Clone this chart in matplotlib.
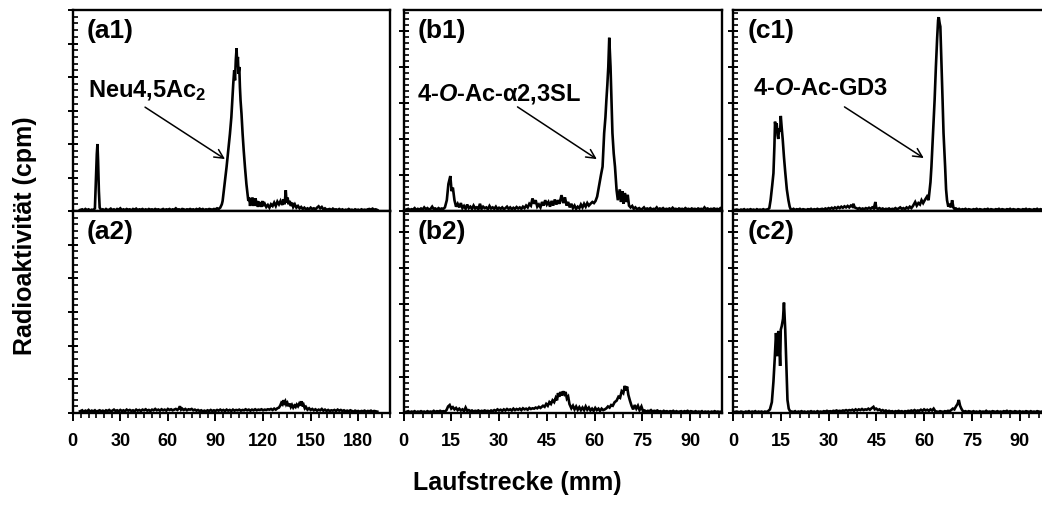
import matplotlib
matplotlib.use("Agg")
import matplotlib.pyplot as plt
from matplotlib.ticker import MultipleLocator

plt.rcParams['font.family'] = ['Liberation Sans', 'DejaVu Sans']
plt.rcParams['font.weight'] = 'bold'
plt.rcParams['mathtext.fontset'] = 'custom'
plt.rcParams['mathtext.rm'] = 'Liberation Sans:bold'
plt.rcParams['mathtext.bf'] = 'Liberation Sans:bold'
plt.rcParams['mathtext.it'] = 'Liberation Sans:italic:bold'
plt.rcParams['mathtext.default'] = 'bf'

# ---------------- data (Laufstrecke mm, Radioaktivität in arbitrary units) -------------
a1_trace = [(4.6,0.03),(6,0.05),(7,0.02),(8,0.06),(9,0.03),(10,0.05),(11,0.02),(12,0.04),(13,0.03),(14,0.08),
    (14.6,0.9),(15.2,1.7),(15.6,2.0),(16.0,1.5),(16.5,0.6),(17,0.1),(18,0.03),(19,0.05),(20,0.02),(21,0.06),
    (22,0.03),(23,0.04),(24,0.07),(25,0.03),(26,0.05),(27,0.02),(28,0.06),(29,0.04),(30,0.08),(31,0.03),
    (32,0.05),(33,0.03),(34,0.06),(35,0.04),(36,0.05),(37,0.02),(38,0.06),(39,0.04),(40,0.07),(41,0.03),
    (42,0.05),(43,0.04),(44,0.06),(45,0.03),(46,0.05),(47,0.03),(48,0.06),(49,0.04),(50,0.05),(51,0.03),
    (52,0.06),(53,0.04),(54,0.05),(55,0.03),(56,0.04),(57,0.06),(58,0.03),(59,0.05),(60,0.04),(61,0.06),
    (62,0.03),(63,0.05),(64,0.04),(65,0.08),(66,0.04),(67,0.05),(68,0.03),(69,0.06),(70,0.05),(71,0.03),
    (72,0.05),(73,0.04),(74,0.06),(75,0.04),(76,0.05),(77,0.03),(78,0.06),(79,0.04),(80,0.07),(81,0.04),
    (82,0.06),(83,0.03),(84,0.05),(85,0.04),(86,0.06),(87,0.05),(88,0.04),(89,0.06),(90,0.05),(91,0.08),
    (92,0.06),(93,0.1),(94,0.2),(94.5,0.3),(95.5,0.7),(96.5,1.1),(97,1.32),(98,1.8),(99.1,2.3),(100,2.8),
    (100.6,3.3),(101.2,3.8),(101.8,4.2),(102.3,3.9),(102.8,4.5),(103.3,4.86),(103.7,4.3),(104.1,4.6),
    (104.5,4.1),(105.0,4.3),(105.4,3.7),(105.8,3.3),(106.4,2.9),(107.1,2.3),(107.8,1.8),(108.6,1.3),
    (109.5,0.8),(110.2,0.5),(110.7,0.3),(111.3,0.4),(111.8,0.15),(112.3,0.35),(112.8,0.2),(113.3,0.4),
    (113.8,0.15),(114.3,0.3),(114.8,0.2),(115.3,0.38),(115.8,0.15),(116.3,0.3),(116.8,0.12),(117.3,0.28),
    (117.8,0.15),(118.5,0.25),(119,0.12),(119.5,0.3),(120,0.15),(121,0.22),(122,0.12),(123,0.18),(124,0.1),
    (125,0.2),(126,0.15),(127,0.25),(128,0.15),(129,0.28),(130,0.2),(131,0.3),(132,0.18),(133,0.35),
    (133.6,0.2),(134.3,0.62),(134.8,0.25),(135.5,0.4),(136,0.2),(136.8,0.3),(137.5,0.15),(138.3,0.25),
    (139,0.12),(140,0.2),(141,0.1),(142,0.15),(143,0.08),(144,0.12),(145,0.06),(146,0.1),(147,0.05),
    (148,0.08),(149,0.05),(150,0.1),(151,0.06),(152,0.08),(153,0.05),(154,0.1),(155,0.14),(156,0.08),
    (157,0.12),(158,0.05),(159,0.08),(160,0.04),(162,0.06),(163,0.03),(164,0.07),(165,0.04),(166,0.05),
    (167,0.03),(168,0.06),(169,0.03),(170,0.05),(171,0.02),(172,0.04),(173,0.03),(174,0.06),(175,0.03),
    (176,0.04),(177,0.02),(178,0.05),(179,0.03),(180,0.04),(181,0.02),(182,0.05),(183,0.03),(184,0.04),
    (185,0.03),(186,0.05),(187,0.06),(188,0.04),(189,0.07),(190,0.04),(191,0.05),(192,0.03)]

a2_trace = [(4.6,0.05),(6,0.08),(7,0.03),(8,0.07),(9,0.05),(10,0.09),(11,0.04),(12,0.07),(13,0.05),(14,0.08),
    (15,0.04),(16,0.06),(17,0.08),(18,0.05),(19,0.07),(20,0.04),(21,0.08),(22,0.06),(23,0.09),(24,0.05),
    (25,0.07),(26,0.1),(27,0.06),(28,0.08),(29,0.05),(30,0.09),(31,0.06),(32,0.08),(33,0.05),(34,0.1),
    (35,0.07),(36,0.09),(37,0.06),(38,0.08),(39,0.05),(40,0.1),(41,0.07),(42,0.09),(43,0.06),(44,0.1),
    (45,0.08),(46,0.11),(47,0.07),(48,0.09),(49,0.06),(50,0.1),(51,0.08),(52,0.12),(53,0.08),(54,0.1),
    (55,0.07),(56,0.11),(57,0.08),(58,0.1),(59,0.07),(60,0.12),(61,0.09),(62,0.11),(63,0.08),(64,0.1),
    (65,0.12),(66,0.09),(67,0.14),(67.6,0.2),(68.3,0.1),(69,0.13),(70,0.09),(71,0.12),(72,0.08),(73,0.11),
    (74,0.1),(75,0.12),(76,0.08),(77,0.1),(78,0.07),(79,0.09),(80,0.06),(81,0.08),(82,0.05),(83,0.07),
    (84,0.05),(85,0.08),(86,0.06),(87,0.09),(88,0.06),(89,0.08),(90,0.06),(91,0.09),(92,0.07),(93,0.1),
    (94,0.07),(95,0.09),(96,0.06),(97,0.1),(98,0.07),(99,0.09),(100,0.06),(101,0.1),(102,0.07),(103,0.09),
    (104,0.08),(105,0.1),(106,0.07),(107,0.09),(108,0.08),(109,0.11),(110,0.08),(111,0.1),(112,0.07),
    (113,0.1),(114,0.08),(115,0.11),(116,0.08),(117,0.1),(118,0.09),(119,0.11),(120,0.08),(121,0.1),
    (122,0.09),(123,0.11),(124,0.1),(125,0.12),(126,0.09),(127,0.13),(128,0.1),(129,0.14),(130,0.16),
    (130.8,0.22),(131.5,0.3),(132.2,0.26),(132.8,0.38),(133.4,0.3),(134,0.35),(134.6,0.25),(135.3,0.3),
    (136,0.2),(136.8,0.28),(137.5,0.18),(138.2,0.24),(139,0.16),(139.8,0.22),(140.5,0.18),(141.2,0.25),
    (142,0.2),(142.8,0.28),(143.5,0.22),(144.2,0.35),(144.8,0.2),(145.5,0.25),(146.3,0.14),(147,0.18),
    (148,0.1),(149,0.14),(150,0.09),(151,0.12),(152,0.08),(153,0.11),(154,0.07),(155,0.1),(156,0.08),
    (157,0.12),(158,0.07),(159,0.1),(160,0.06),(161,0.09),(162,0.06),(163,0.08),(164,0.07),(165,0.09),
    (166,0.06),(167,0.1),(168,0.07),(169,0.09),(170,0.06),(171,0.08),(172,0.05),(173,0.07),(174,0.05),
    (175,0.08),(176,0.06),(177,0.04),(178,0.07),(179,0.05),(180,0.06),(181,0.04),(182,0.06),(183,0.05),
    (184,0.07),(185,0.04),(186,0.06),(187,0.05),(188,0.07),(189,0.04),(190,0.06),(191,0.05),(192,0.04)]

b1_trace = [(0.8,0.04),(1.5,0.06),(2,0.03),(2.5,0.05),(3,0.04),(3.5,0.08),(4,0.03),(4.5,0.06),(5,0.04),
    (5.5,0.07),(6,0.04),(6.5,0.1),(7,0.05),(7.5,0.08),(8,0.04),(8.5,0.06),(9,0.12),(9.5,0.05),(10,0.07),
    (10.5,0.04),(11,0.08),(11.5,0.05),(12,0.07),(12.5,0.06),(13,0.1),(13.6,0.3),(14.1,0.75),(14.7,0.97),
    (15.1,0.55),(15.5,0.65),(16,0.3),(16.5,0.12),(17,0.2),(17.5,0.1),(18,0.22),(18.5,0.08),(19,0.14),
    (19.5,0.06),(20,0.18),(20.5,0.08),(21,0.12),(21.5,0.06),(22,0.15),(22.5,0.07),(23,0.1),(23.5,0.05),
    (24,0.2),(24.5,0.06),(25,0.12),(25.5,0.08),(26,0.1),(26.5,0.05),(27,0.14),(27.5,0.07),(28,0.1),
    (28.5,0.06),(29,0.12),(29.5,0.05),(30,0.09),(30.5,0.06),(31,0.1),(31.5,0.05),(32,0.08),(32.5,0.12),
    (33,0.06),(33.5,0.1),(34,0.05),(34.5,0.09),(35,0.06),(35.5,0.11),(36,0.07),(36.5,0.1),(37,0.06),
    (37.5,0.12),(38,0.08),(38.5,0.15),(39,0.1),(39.5,0.2),(40,0.15),(40.5,0.35),(41,0.2),(41.5,0.3),
    (42,0.12),(42.5,0.18),(43,0.1),(43.5,0.25),(44,0.15),(44.5,0.3),(45,0.18),(45.5,0.25),(46,0.12),
    (46.5,0.28),(47,0.15),(47.5,0.32),(48,0.18),(48.5,0.3),(49,0.2),(49.6,0.44),(50.2,0.22),(50.7,0.38),
    (51.2,0.15),(51.7,0.25),(52.2,0.1),(52.7,0.2),(53.2,0.08),(53.7,0.15),(54.2,0.06),(54.7,0.12),
    (55.2,0.08),(55.7,0.18),(56.2,0.1),(56.7,0.2),(57.2,0.12),(57.7,0.22),(58.2,0.15),(58.7,0.2),
    (59.3,0.25),(59.8,0.22),(60.3,0.28),(60.8,0.4),(61.4,0.7),(62.0,1.0),(62.5,1.23),(63.0,2.16),
    (63.4,2.6),(63.7,3.08),(64.0,3.5),(64.3,4.0),(64.6,4.81),(65.0,4.0),(65.3,3.08),(65.6,2.16),(66.0,1.6),
    (66.4,1.23),(66.9,0.58),(67.3,0.3),(67.6,0.45),(67.9,0.6),(68.3,0.25),(68.7,0.55),(69.1,0.2),
    (69.5,0.5),(69.9,0.25),(70.4,0.45),(70.8,0.15),(71.3,0.1),(71.8,0.14),(72.3,0.06),(72.8,0.1),
    (73.3,0.05),(74,0.08),(74.5,0.04),(75,0.06),(75.5,0.1),(76,0.04),(76.5,0.07),(77,0.05),(77.5,0.08),
    (78,0.04),(78.5,0.06),(79,0.05),(79.5,0.1),(80,0.04),(80.5,0.07),(81,0.05),(81.5,0.08),(82,0.04),
    (82.5,0.06),(83,0.05),(83.5,0.07),(84,0.04),(84.5,0.09),(85,0.05),(85.5,0.06),(86,0.04),(86.5,0.07),
    (87,0.05),(87.5,0.06),(88,0.04),(88.5,0.08),(89,0.05),(89.5,0.06),(90,0.04),(90.5,0.07),(91,0.05),
    (91.5,0.06),(92,0.04),(92.5,0.07),(93,0.05),(93.5,0.06),(94,0.04),(94.5,0.1),(95,0.05),(95.5,0.07),
    (96,0.04),(96.5,0.06),(97,0.05),(97.5,0.07),(98,0.05),(98.5,0.06),(99,0.04),(99.5,0.08),(100,0.05)]

b2_trace = [(0.8,0.03),(1.5,0.05),(2,0.02),(2.5,0.04),(3,0.03),(3.5,0.05),(4,0.02),(4.5,0.04),(5,0.03),
    (5.5,0.05),(6,0.03),(6.5,0.04),(7,0.02),(7.5,0.05),(8,0.03),(8.5,0.04),(9,0.03),(9.5,0.06),(10,0.03),
    (10.5,0.05),(11,0.04),(11.5,0.06),(12,0.04),(12.5,0.05),(13,0.04),(13.5,0.08),(14,0.18),(14.5,0.22),
    (15,0.12),(15.5,0.16),(16,0.1),(16.5,0.14),(17,0.08),(17.5,0.12),(18,0.07),(18.5,0.1),(19,0.05),
    (19.5,0.15),(20,0.06),(20.5,0.08),(21,0.05),(21.5,0.07),(22,0.04),(22.5,0.06),(23,0.05),(23.5,0.07),
    (24,0.04),(24.5,0.06),(25,0.05),(25.5,0.07),(26,0.05),(26.5,0.06),(27,0.04),(27.5,0.07),(28,0.05),
    (28.5,0.08),(29,0.06),(29.5,0.1),(30,0.07),(30.5,0.09),(31,0.06),(31.5,0.1),(32,0.07),(32.5,0.11),
    (33,0.08),(33.5,0.1),(34,0.07),(34.5,0.12),(35,0.08),(35.5,0.11),(36,0.09),(36.5,0.12),(37,0.08),
    (37.5,0.13),(38,0.1),(38.5,0.12),(39,0.09),(39.5,0.14),(40,0.11),(40.5,0.13),(41,0.12),(41.5,0.15),
    (42,0.13),(42.5,0.17),(43,0.14),(43.8,0.2),(44.3,0.17),(44.8,0.25),(45.3,0.2),(45.8,0.3),(46.3,0.25),
    (46.8,0.35),(47.3,0.3),(47.8,0.42),(48.2,0.35),(48.5,0.55),(48.9,0.45),(49.3,0.58),(49.7,0.48),
    (50.1,0.6),(50.5,0.52),(50.9,0.58),(51.3,0.4),(51.7,0.45),(52.1,0.25),(52.7,0.13),(53.2,0.2),
    (53.7,0.1),(54.2,0.18),(54.7,0.09),(55.2,0.16),(55.7,0.08),(56.2,0.15),(56.7,0.08),(57.2,0.18),
    (57.7,0.09),(58.2,0.15),(58.7,0.07),(59.2,0.12),(59.7,0.06),(60.2,0.14),(60.7,0.08),(61.2,0.12),
    (61.7,0.06),(62.2,0.12),(62.7,0.08),(63.2,0.1),(63.7,0.13),(64.2,0.18),(64.7,0.15),(65.2,0.22),
    (65.7,0.2),(66.3,0.3),(66.9,0.34),(67.5,0.45),(68.0,0.42),(68.5,0.6),(69.0,0.55),(69.5,0.75),
    (69.8,0.62),(70.2,0.73),(70.6,0.5),(71.1,0.34),(71.6,0.2),(72.1,0.1),(72.6,0.22),(73.1,0.12),
    (73.6,0.2),(74.1,0.08),(74.7,0.18),(75.2,0.05),(75.7,0.07),(76.2,0.04),(76.7,0.06),(77.2,0.05),
    (77.7,0.08),(78.2,0.04),(78.7,0.06),(79.2,0.05),(79.7,0.07),(80.2,0.04),(80.7,0.05),(81.2,0.03),
    (81.7,0.06),(82.2,0.04),(82.7,0.05),(83.2,0.03),(83.7,0.05),(84.2,0.04),(84.7,0.06),(85.2,0.03),
    (85.7,0.05),(86.2,0.03),(86.7,0.04),(87.2,0.05),(87.7,0.03),(88.2,0.05),(88.7,0.04),(89.2,0.06),
    (89.7,0.03),(90.2,0.05),(90.7,0.04),(91.2,0.03),(91.7,0.05),(92.2,0.03),(92.7,0.04),(93.2,0.03),
    (93.7,0.05),(94.2,0.02),(94.7,0.04),(95.2,0.03),(95.7,0.04),(96.2,0.02),(96.7,0.04),(97.2,0.03),
    (97.7,0.05),(98.2,0.03),(98.7,0.04),(99.2,0.03),(100,0.04)]

c1_trace = [(0.6,0.03),(1.2,0.04),(2,0.02),(2.5,0.04),(3,0.03),(3.5,0.05),(4,0.02),(4.5,0.04),(5,0.03),
    (5.5,0.05),(6,0.03),(6.5,0.04),(7,0.02),(7.5,0.05),(8,0.03),(8.5,0.04),(9,0.03),(9.5,0.05),(10,0.03),
    (10.5,0.04),(11,0.05),(11.4,0.08),(11.8,0.3),(12.3,0.7),(12.7,1.05),(13.0,1.8),(13.2,2.48),(13.5,2.2),
    (13.7,2.44),(14.0,2.1),(14.2,2.0),(14.5,2.3),(14.8,2.2),(15.0,2.64),(15.3,2.3),(15.6,2.0),(16.0,1.5),
    (16.4,1.08),(16.9,0.6),(17.4,0.3),(17.8,0.12),(18.1,0.05),(18.6,0.04),(19,0.06),(19.5,0.03),(20,0.05),
    (20.5,0.04),(21,0.06),(21.5,0.03),(22,0.05),(22.5,0.04),(23,0.03),(23.5,0.05),(24,0.04),(24.5,0.06),
    (25,0.03),(25.5,0.05),(26,0.04),(26.5,0.06),(27,0.04),(27.5,0.05),(28,0.06),(28.5,0.04),(29,0.07),
    (29.5,0.05),(30,0.08),(30.5,0.06),(31,0.09),(31.5,0.06),(32,0.1),(32.5,0.07),(33,0.11),(33.5,0.08),
    (34,0.12),(34.5,0.09),(35,0.13),(35.5,0.1),(36,0.14),(36.5,0.1),(37,0.15),(37.5,0.12),(37.8,0.2),
    (38.2,0.1),(38.7,0.08),(39.2,0.06),(39.7,0.08),(40.2,0.05),(40.7,0.07),(41.2,0.05),(41.7,0.08),
    (42.2,0.06),(42.7,0.09),(43.2,0.06),(43.7,0.1),(44.2,0.07),(44.7,0.25),(45.0,0.08),(45.5,0.06),
    (46,0.08),(46.5,0.05),(47,0.07),(47.5,0.04),(48,0.06),(48.5,0.05),(49,0.07),(49.5,0.04),(50,0.06),
    (50.5,0.05),(51,0.08),(51.5,0.05),(52,0.07),(52.5,0.1),(53,0.06),(53.5,0.08),(54,0.05),(54.5,0.1),
    (55,0.07),(55.5,0.12),(56,0.08),(56.5,0.14),(57.2,0.25),(57.7,0.15),(58.2,0.22),(58.7,0.18),
    (59.2,0.3),(59.7,0.22),(60.2,0.3),(60.9,0.4),(61.4,0.3),(62.0,0.8),(62.3,1.23),(62.8,2.16),
    (63.3,3.08),(63.7,4.0),(64.1,4.8),(64.4,5.3),(64.6,5.38),(64.9,5.2),(65.1,5.12),(65.5,4.0),
    (65.8,3.08),(66.1,2.16),(66.6,1.23),(66.9,0.6),(67.2,0.3),(67.6,0.12),(68.0,0.2),(68.4,0.1),
    (68.8,0.3),(69.2,0.1),(69.6,0.05),(70,0.07),(70.5,0.04),(71,0.06),(71.5,0.03),(72,0.05),(72.5,0.04),
    (73,0.06),(73.5,0.03),(74,0.05),(74.5,0.04),(75,0.03),(75.5,0.05),(76,0.04),(76.5,0.06),(77,0.03),
    (77.5,0.05),(78,0.04),(78.5,0.03),(79,0.05),(79.5,0.04),(80,0.06),(80.5,0.03),(81,0.05),(81.5,0.04),
    (82,0.03),(82.5,0.05),(83,0.04),(83.5,0.06),(84,0.03),(84.5,0.05),(85,0.04),(85.5,0.03),(86,0.05),
    (86.5,0.04),(87,0.06),(87.5,0.03),(88,0.05),(88.5,0.04),(89,0.03),(89.5,0.05),(90,0.04),(90.5,0.03),
    (91,0.05),(91.5,0.04),(92,0.06),(92.5,0.03),(93,0.05),(93.5,0.04),(94,0.03),(94.5,0.05),(95,0.04),
    (95.5,0.06),(96,0.03),(96.5,0.05),(97,0.04),(97.5,0.03),(98,0.05),(98.5,0.04),(99,0.03),(99.5,0.05),
    (100,0.04)]

c2_trace = [(0.6,0.03),(1.2,0.04),(2,0.02),(2.5,0.04),(3,0.03),(3.5,0.02),(4,0.04),(4.5,0.03),(5,0.05),
    (5.5,0.02),(6,0.04),(6.5,0.03),(7,0.05),(7.5,0.02),(8,0.04),(8.5,0.03),(9,0.04),(9.5,0.02),(10,0.04),
    (10.5,0.03),(11,0.05),(11.6,0.1),(12.2,0.3),(12.7,0.87),(13.1,1.5),(13.5,2.21),(13.9,1.57),(14.1,2.2),
    (14.4,2.26),(14.8,1.3),(15.0,2.3),(15.3,2.4),(15.7,2.6),(16.0,3.05),(16.4,2.3),(16.7,1.5),(17.1,0.36),
    (17.5,0.12),(17.9,0.05),(18.5,0.04),(19,0.03),(19.5,0.05),(20,0.02),(20.5,0.04),(21,0.03),(21.5,0.05),
    (22,0.03),(22.5,0.04),(23,0.02),(23.5,0.04),(24,0.03),(24.5,0.05),(25,0.03),(25.5,0.04),(26,0.02),
    (26.5,0.05),(27,0.03),(27.5,0.04),(28,0.03),(28.5,0.05),(29,0.04),(29.5,0.06),(30,0.04),(30.5,0.05),
    (31,0.04),(31.5,0.06),(32,0.05),(32.5,0.07),(33,0.05),(33.5,0.06),(34,0.05),(34.5,0.07),(35,0.06),
    (35.5,0.08),(36,0.06),(36.5,0.08),(37,0.07),(37.5,0.09),(38,0.06),(38.5,0.1),(39,0.07),(39.5,0.1),
    (40,0.08),(40.5,0.11),(41,0.08),(41.5,0.1),(42,0.09),(42.5,0.12),(43,0.09),(43.5,0.13),(44.1,0.17),
    (44.5,0.1),(45,0.12),(45.5,0.08),(46,0.1),(46.5,0.06),(47,0.08),(47.5,0.05),(48,0.07),(48.5,0.04),
    (49,0.06),(49.5,0.04),(50,0.05),(50.5,0.03),(51,0.05),(51.5,0.04),(52,0.06),(52.5,0.04),(53,0.05),
    (53.5,0.03),(54,0.05),(54.5,0.04),(55,0.06),(55.5,0.05),(56,0.07),(56.5,0.05),(57,0.08),(57.5,0.05),
    (58,0.07),(58.5,0.06),(59,0.09),(59.5,0.06),(60,0.1),(60.5,0.07),(61,0.09),(61.5,0.06),(62,0.1),
    (62.5,0.07),(63,0.12),(63.5,0.05),(64,0.04),(64.5,0.03),(65,0.05),(65.5,0.04),(66,0.03),(66.5,0.05),
    (67,0.04),(67.5,0.06),(68,0.05),(68.5,0.08),(69,0.12),(69.5,0.1),(70,0.18),(70.5,0.25),(70.9,0.36),
    (71.3,0.2),(71.7,0.12),(72.1,0.06),(72.5,0.04),(73,0.05),(73.5,0.03),(74,0.05),(74.5,0.04),(75,0.03),
    (75.5,0.05),(76,0.03),(76.5,0.04),(77,0.02),(77.5,0.05),(78,0.03),(78.5,0.04),(79,0.03),(79.5,0.06),
    (80,0.03),(80.5,0.04),(81,0.03),(81.5,0.05),(82,0.04),(82.5,0.03),(83,0.05),(83.5,0.03),(84,0.04),
    (84.5,0.03),(85,0.05),(85.5,0.04),(86,0.06),(86.5,0.03),(87,0.05),(87.5,0.04),(88,0.03),(88.5,0.05),
    (89,0.04),(89.5,0.03),(90,0.05),(90.5,0.03),(91,0.04),(91.5,0.03),(92,0.05),(92.5,0.04),(93,0.03),
    (93.5,0.05),(94,0.03),(94.5,0.04),(95,0.03),(95.5,0.05),(96,0.04),(96.5,0.03),(97,0.04),(98,0.03),
    (99,0.04),(100,0.03)]

panel_labels = ['(a1)', '(b1)', '(c1)', '(a2)', '(b2)', '(c2)']
a_xticks = [0, 30, 60, 90, 120, 150, 180]
bc_xticks = [0, 15, 30, 45, 60, 75, 90]
annotations = ['Neu4,5Ac$_2$', '4-$\\mathit{O}$-Ac-α2,3SL', '4-$\\mathit{O}$-Ac-GD3']
x_label = 'Laufstrecke (mm)'
y_label = 'Radioaktivität (cpm)'

# ---------------- figure ----------------
W, H = 1042, 507
fig = plt.figure(figsize=(W / 100, H / 100), dpi=100)

col_left = [72.7, 403.5, 733.0]
col_width = [317.3, 318.5, 318.5]
row_top = [10.0, 211.0]
row_h = [201.0, 202.0]

traces = [[a1_trace, b1_trace, c1_trace], [a2_trace, b2_trace, c2_trace]]
xlims = [(0, 200), (0, 100), (0, 100)]
ylims = [(0, 6.0), (0, 5.58), (0, 5.58)]
yminor = [0.2, 1 / 6, 1 / 6]
xminor = [5, 3, 3]
xticks = [a_xticks, bc_xticks, bc_xticks]

axes = {}
for r in range(2):
    for c in range(3):
        l = col_left[c] / W
        b = 1 - (row_top[r] + row_h[r]) / H
        ax = fig.add_axes([l, b, col_width[c] / W, row_h[r] / H])
        axes[(r, c)] = ax
        tr = traces[r][c]
        xs = [p[0] for p in tr]
        ys = [p[1] for p in tr]
        ax.plot(xs, ys, color='black', lw=1.9, solid_joinstyle='miter')
        ax.set_xlim(*xlims[c])
        ax.set_ylim(*ylims[c])
        for s in ax.spines.values():
            s.set_linewidth(1.7)
        ax.yaxis.set_major_locator(MultipleLocator(1))
        ax.yaxis.set_minor_locator(MultipleLocator(yminor[c]))
        ax.tick_params(axis='y', which='major', direction='inout', length=7, width=1.4,
                       left=True, right=False, labelleft=False)
        ax.tick_params(axis='y', which='minor', direction='in', length=3.8, width=1.2,
                       left=True, right=False)
        ax.set_xticks(xticks[c])
        ax.xaxis.set_minor_locator(MultipleLocator(xminor[c]))
        if r == 0:
            ax.tick_params(axis='x', which='both', bottom=False, top=False, labelbottom=False)
        else:
            ax.tick_params(axis='x', which='major', direction='out', length=5.5, width=1.4,
                           top=False, labelsize=13, pad=9)
            ax.tick_params(axis='x', which='minor', direction='out', length=3.5, width=1.2, top=False)
            for t in ax.get_xticklabels():
                t.set_fontweight('bold')
        ax.text(0.045, 0.86, panel_labels[r * 3 + c], transform=ax.transAxes,
                fontsize=19, fontweight='bold', ha='left', va='baseline')

# annotations in top row
ann_text_pos = [(9.7, 3.40), (4.1, 3.08), (6.3, 3.22)]
ann_from = [(45.6, 3.1), (35.8, 2.89), (35.0, 2.89)]
ann_to = [(96.0, 1.55), (60.7, 1.44), (59.9, 1.47)]
for c in range(3):
    ax = axes[(0, c)]
    ax.text(ann_text_pos[c][0], ann_text_pos[c][1], annotations[c], fontsize=17,
            fontweight='bold', ha='left', va='baseline')
    ax.annotate('', xy=ann_to[c], xytext=ann_from[c],
                arrowprops=dict(arrowstyle='->', lw=1.1, color='black',
                                mutation_scale=16, shrinkA=0, shrinkB=0))

fig.text(0.496, 1 - 483 / H, x_label, ha='center', va='center', fontsize=18, fontweight='bold')
fig.text(25 / W, 1 - 236 / H, y_label, ha='center', va='center', rotation=90,
         fontsize=18, fontweight='bold')

fig.savefig('out.png', dpi=100)
